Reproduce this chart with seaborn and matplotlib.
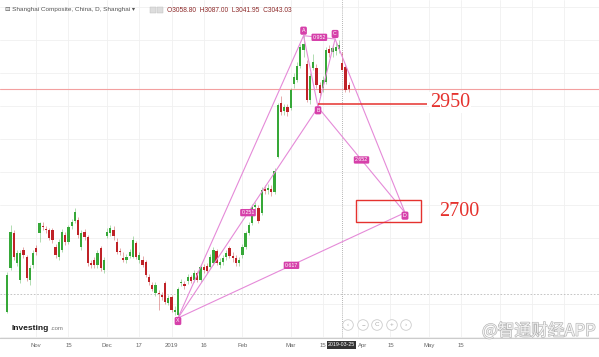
import numpy as np
import pandas as pd
import matplotlib
matplotlib.use("Agg")
import matplotlib.pyplot as plt
import matplotlib.patheffects as pe
from matplotlib.patches import Rectangle
import seaborn as sns

# ---------------- data ----------------
# trading-day position 0 = 2018-10-19 ... 104 = 2019-03-25
open_ = [2454.5, 2561.5, 2646.5, 2573.6, 2532.3, 2605.2, 2588.2, 2532.3, 2568.8, 2610.1,
         2646.5, 2663.5, 2656.2, 2653.8, 2653.8, 2612.5, 2588.2, 2605.2, 2641.7, 2624.6,
         2663.5, 2675.7, 2678.1, 2612.5, 2648.9, 2636.8, 2573.6, 2580.9, 2568.8, 2610.1,
         2556.6, 2639.2, 2646.5, 2653.8, 2624.6, 2602.8, 2585.8, 2580.9, 2590.6, 2588.2,
         2622.2, 2580.9, 2580.9, 2576.1, 2539.6, 2520.2, 2500.7, 2500.7, 2495.9, 2525.0,
         2476.4, 2491.0, 2454.5, 2447.3, 2525.0, 2522.6, 2529.9, 2539.6, 2532.3, 2549.3,
         2532.3, 2563.9, 2566.3, 2563.9, 2573.6, 2602.8, 2568.8, 2576.1, 2588.2, 2610.1,
         2590.6, 2585.8, 2573.6, 2593.1, 2612.5, 2646.5, 2670.8, 2709.7, 2707.3, 2695.1,
         2753.4, 2751.0, 2753.4, 2746.1, 2831.2, 2962.4, 2943.0, 2952.7, 2950.3, 3008.6,
         3018.3, 3052.3, 3091.2, 3057.2, 2969.7, 3047.5, 3047.5, 3006.2, 2998.9, 3013.4,
         3093.6, 3086.4, 3088.8, 3093.6, 3058.80, 3049.9, 3006.2]
high = [2551.7, 2666.0, 2653.8, 2605.2, 2605.2, 2612.5, 2593.1, 2568.8, 2605.2, 2617.4,
        2673.2, 2673.2, 2663.5, 2658.7, 2658.7, 2619.8, 2631.9, 2656.2, 2648.9, 2666.0,
        2680.5, 2707.3, 2685.4, 2653.8, 2656.2, 2641.7, 2580.9, 2588.2, 2605.2, 2614.9,
        2588.2, 2658.7, 2666.0, 2663.5, 2634.4, 2610.1, 2600.4, 2595.5, 2607.6, 2639.2,
        2627.1, 2600.4, 2590.6, 2580.9, 2546.9, 2527.5, 2527.5, 2508.0, 2503.1, 2529.9,
        2495.9, 2495.9, 2469.1, 2515.3, 2534.7, 2529.9, 2546.9, 2544.5, 2556.6, 2554.2,
        2571.2, 2571.2, 2573.6, 2595.5, 2612.5, 2607.6, 2585.8, 2593.1, 2605.2, 2614.9,
        2600.4, 2593.1, 2588.2, 2619.8, 2651.4, 2673.2, 2717.0, 2721.8, 2714.6, 2758.3,
        2763.2, 2765.6, 2763.2, 2804.5, 2962.4, 2979.4, 2960.0, 2960.0, 2998.9, 3035.3,
        3062.0, 3105.8, 3127.7, 3066.9, 3035.3, 3081.5, 3057.2, 3013.4, 3028.0, 3098.5,
        3103.4, 3105.8, 3110.6, 3115.5, 3087.00, 3057.2, 3013.4]
low = [2452.1, 2556.6, 2580.9, 2566.3, 2525.0, 2585.8, 2529.9, 2520.2, 2561.5, 2593.1,
       2624.6, 2653.8, 2646.5, 2629.5, 2622.2, 2585.8, 2580.9, 2600.4, 2617.4, 2619.8,
       2656.2, 2670.8, 2634.4, 2605.2, 2629.5, 2566.3, 2561.5, 2561.5, 2561.5, 2554.2,
       2549.3, 2634.4, 2639.2, 2629.5, 2595.5, 2593.1, 2576.1, 2573.6, 2585.8, 2585.8,
       2583.4, 2573.6, 2563.9, 2539.6, 2520.2, 2505.6, 2493.4, 2459.4, 2483.7, 2474.0,
       2471.6, 2454.5, 2447.3, 2440.0, 2517.7, 2510.4, 2522.6, 2525.0, 2527.5, 2527.5,
       2527.5, 2549.3, 2549.3, 2559.0, 2568.8, 2568.8, 2561.5, 2568.8, 2580.9, 2585.8,
       2576.1, 2566.3, 2566.3, 2585.8, 2607.6, 2641.7, 2666.0, 2702.4, 2670.8, 2690.3,
       2741.3, 2741.3, 2736.4, 2741.3, 2828.8, 2933.2, 2933.2, 2930.8, 2945.4, 2998.9,
       3013.4, 3047.5, 3074.2, 2964.8, 2960.0, 3042.6, 2998.9, 2979.4, 2989.1, 3008.6,
       3074.2, 3074.2, 3079.1, 3083.9, 3041.95, 2989.1, 2989.1]
close = [2544.5, 2648.9, 2588.2, 2597.9, 2597.9, 2593.1, 2537.2, 2561.5, 2597.9, 2600.4,
         2670.8, 2661.1, 2653.8, 2634.4, 2629.5, 2593.1, 2624.6, 2648.9, 2624.6, 2661.1,
         2673.2, 2697.6, 2641.7, 2646.5, 2636.8, 2573.6, 2568.8, 2568.8, 2597.9, 2561.5,
         2580.9, 2648.9, 2658.7, 2639.2, 2600.4, 2600.4, 2580.9, 2588.2, 2600.4, 2629.5,
         2588.2, 2593.1, 2568.8, 2544.5, 2527.5, 2510.4, 2520.2, 2498.3, 2491.0, 2478.9,
         2488.6, 2459.4, 2459.4, 2510.4, 2527.5, 2517.7, 2539.6, 2529.9, 2549.3, 2532.3,
         2563.9, 2556.6, 2554.2, 2588.2, 2605.2, 2573.6, 2576.1, 2585.8, 2597.9, 2590.6,
         2585.8, 2573.6, 2580.9, 2612.5, 2646.5, 2666.0, 2709.7, 2714.6, 2675.7, 2751.0,
         2748.6, 2755.9, 2746.1, 2797.2, 2957.6, 2940.5, 2952.7, 2940.5, 2994.0, 3025.6,
         3052.3, 3098.5, 3105.8, 2969.7, 3028.0, 3062.0, 3006.2, 2986.7, 3018.3, 3091.2,
         3083.9, 3096.1, 3098.5, 3103.4, 3043.03, 2994.0, 2996.4]
bar_pos = list(range(len(close)))
crosshair_pos = 104
crosshair_date = "2019-03-25"

tick_pos = [9, 19, 31, 41, 51, 61, 73, 88, 98, 109, 119, 131, 141, 153, 163, 173]
tick_labels = ["Nov", "15", "Dec", "17", "2019", "16", "Feb", "Mar", "15", "Apr",
               "15", "May", "15", "", "", ""]

pattern_names = ["X", "A", "B", "C", "D"]
pattern_pos = [53, 92, 96.5, 101.8, 123.5]
pattern_price = [2440.0, 3126.0, 2952.0, 3118.0, 2696.0]
ratio_from = ["X", "A", "B", "X"]
ratio_to = ["B", "C", "D", "D"]
ratio_text = ["0.251", "0.952", "2.652", "0.617"]

level_price = 2960.5          # drawn "2950" level
level_text = "2950"
zone_low, zone_high = 2673.2, 2726.7
zone_text = "2700"
price_line = 2996.4
dotted_line = 2498.3
grid_levels = [2393.8, 2474.0, 2554.2, 2634.4, 2714.6, 2794.7, 2874.9, 2955.1,
               3035.3, 3115.5, 3195.7]

# ---------------- style ----------------
sns.set_theme(style="white")
plt.rcParams["font.family"] = ["Liberation Sans", "DejaVu Sans"]

W, H = 599, 357
fig = plt.figure(figsize=(W / 100, H / 100), dpi=100)
ax = fig.add_axes([0, 19 / H, 1, 338 / H])
ax.set_facecolor("white")

GREEN = "#36a838"
RED = "#bf2227"
PINK = "#e58ad8"
MAG = "#d640aa"
ANN = "#e5322e"

# candles
df = pd.DataFrame({"pos": bar_pos, "open": open_, "high": high, "low": low, "close": close})
df["up"] = df["close"] >= df["open"]
df["color"] = np.where(df["up"], GREEN, RED)
body_lo = np.minimum(df["open"], df["close"])
body_h = np.maximum(np.abs(df["close"] - df["open"]), 2.0)
ax.vlines(df["pos"], df["low"], df["high"], colors=df["color"], linewidth=0.6, alpha=0.45, zorder=2)
ax.bar(df["pos"], body_h, bottom=body_lo, width=0.7, color=df["color"], linewidth=0, zorder=3)

# pattern legs
pts = pd.DataFrame({"name": pattern_names, "pos": pattern_pos, "price": pattern_price})
sns.lineplot(data=pts, x="pos", y="price", sort=False, estimator=None, color=PINK,
             linewidth=0.8, ax=ax, zorder=4)
lookup = pts.set_index("name")
for a, b, t in zip(ratio_from, ratio_to, ratio_text):
    seg = lookup.loc[[a, b]].reset_index()
    sns.lineplot(data=seg, x="pos", y="price", sort=False, estimator=None, color=PINK,
                 linewidth=0.8, ax=ax, zorder=4)
    mx, my = seg["pos"].mean(), seg["price"].mean()
    ax.text(mx, my, t, fontsize=3.8, color="white", ha="center", va="center", zorder=8,
            bbox=dict(boxstyle="round,pad=0.22", fc=MAG, ec="none"))

for name, x, y in zip(pattern_names, pattern_pos, pattern_price):
    is_high = name in ("A", "C")
    ax.annotate(name, (x, y), xytext=(0, 5 if is_high else -3), textcoords="offset pixels",
                fontsize=3.8, color="white", ha="center", va="center", zorder=9,
                bbox=dict(boxstyle="round,pad=0.3", fc=MAG, ec="none"))

# horizontal lines / annotations
ax.axhline(price_line, color="#f3a0a0", linewidth=0.8, zorder=1)
ax.axhline(dotted_line, color="#bbbbbb", linewidth=0.6, linestyle=(0, (2, 2)), zorder=1)
ax.axvline(crosshair_pos, color="#9a9a9a", linewidth=0.6, linestyle=(0, (1, 1.5)), zorder=1)
ax.hlines(level_price, pattern_pos[2], 130.3, color=ANN, linewidth=1.1, zorder=5)
ax.text(131.3, level_price + 4, level_text, fontsize=14.5, family=["Liberation Serif", "DejaVu Serif"],
        color=ANN, ha="left", va="center", zorder=6,
        bbox=dict(boxstyle="square,pad=0.05", fc="white", ec="none"))
ax.add_patch(Rectangle((108.3, zone_low), 20.2, zone_high - zone_low, fill=False,
                       edgecolor=ANN, linewidth=1.0, zorder=5))
ax.text(134.0, (zone_low + zone_high) / 2, zone_text, fontsize=14.5,
        family=["Liberation Serif", "DejaVu Serif"], color=ANN, ha="left", va="center", zorder=6)

# axes, grid
ax.set_xlim(-2.27, 183.75)
ax.set_ylim(2391.4, 3212.7)
ax.set_xticks(tick_pos)
ax.set_xticklabels(tick_labels)
ax.set_yticks(grid_levels)
ax.set_yticklabels([])
ax.set_xlabel("")
ax.set_ylabel("")
ax.grid(True, color="#f0f0f0", linewidth=0.6, zorder=0)
ax.set_axisbelow(True)
ax.tick_params(axis="x", length=0, pad=3.5, labelsize=4.3, labelcolor="#666666")
ax.tick_params(axis="y", length=0)
for s in ("top", "right", "left"):
    ax.spines[s].set_visible(False)
ax.spines["bottom"].set_color("#cccccc")
ax.spines["bottom"].set_linewidth(0.8)
# "Apr" sits partly under the crosshair date tag, as in the source; nudge it right
for lbl in ax.get_xticklabels():
    if lbl.get_text() == "Apr":
        lbl.set_horizontalalignment("left")

# crosshair date tag
ax.annotate(crosshair_date, (crosshair_pos, 0), xycoords=("data", "axes fraction"),
            xytext=(-1, -7), textcoords="offset pixels", fontsize=3.8, color="white",
            ha="center", va="center", zorder=10, annotation_clip=False,
            bbox=dict(boxstyle="square,pad=0.2", fc="#333333", ec="none"))

# header
def fx(x):
    return x / W

def fy(y):
    return 1 - y / H

fig.text(fx(5), fy(10), "\u229f Shanghai Composite, China, D, Shanghai \u25be", fontsize=4.6,
         color="#555555", va="center", ha="left")
for x0 in (150, 157):
    fig.add_artist(Rectangle((fx(x0), fy(13)), 5.5 / W, 5.5 / H, transform=fig.transFigure,
                             fc="#dddddd", ec="#bbbbbb", lw=0.3))
c = crosshair_pos
fig.text(fx(167), fy(10),
         f"O{open_[c]:.2f}  H{high[c]:.2f}  L{low[c]:.2f}  C{close[c]:.2f}",
         fontsize=4.8, color="#8e2b2b", va="center", ha="left")

# logo
fig.text(fx(12), fy(328), "Investing", fontsize=6, fontweight="bold", color="#1a1a1a",
         va="center", ha="left")
fig.text(fx(50.5), fy(329), ".com", fontsize=4.3, color="#777777", va="center", ha="left")

# navigation buttons
for x0, sym in zip([348, 363, 377, 392, 406], ["\u2039", "\u2212", "C", "+", "\u203a"]):
    fig.text(fx(x0), fy(325), sym, fontsize=4.5, color="#aaaaaa", ha="center", va="center",
             bbox=dict(boxstyle="circle,pad=0.45", fc="white", ec="#cccccc", lw=0.6))

# watermark
fig.text(fx(482), fy(331), "@智通财经APP", fontsize=12,
         family=["Noto Sans CJK SC", "DejaVu Sans"], color="#f2f2f2", ha="left", va="center",
         path_effects=[pe.withStroke(linewidth=0.9, foreground="#b5b5b5")])

fig.savefig("out.png", dpi=100, facecolor="white")
